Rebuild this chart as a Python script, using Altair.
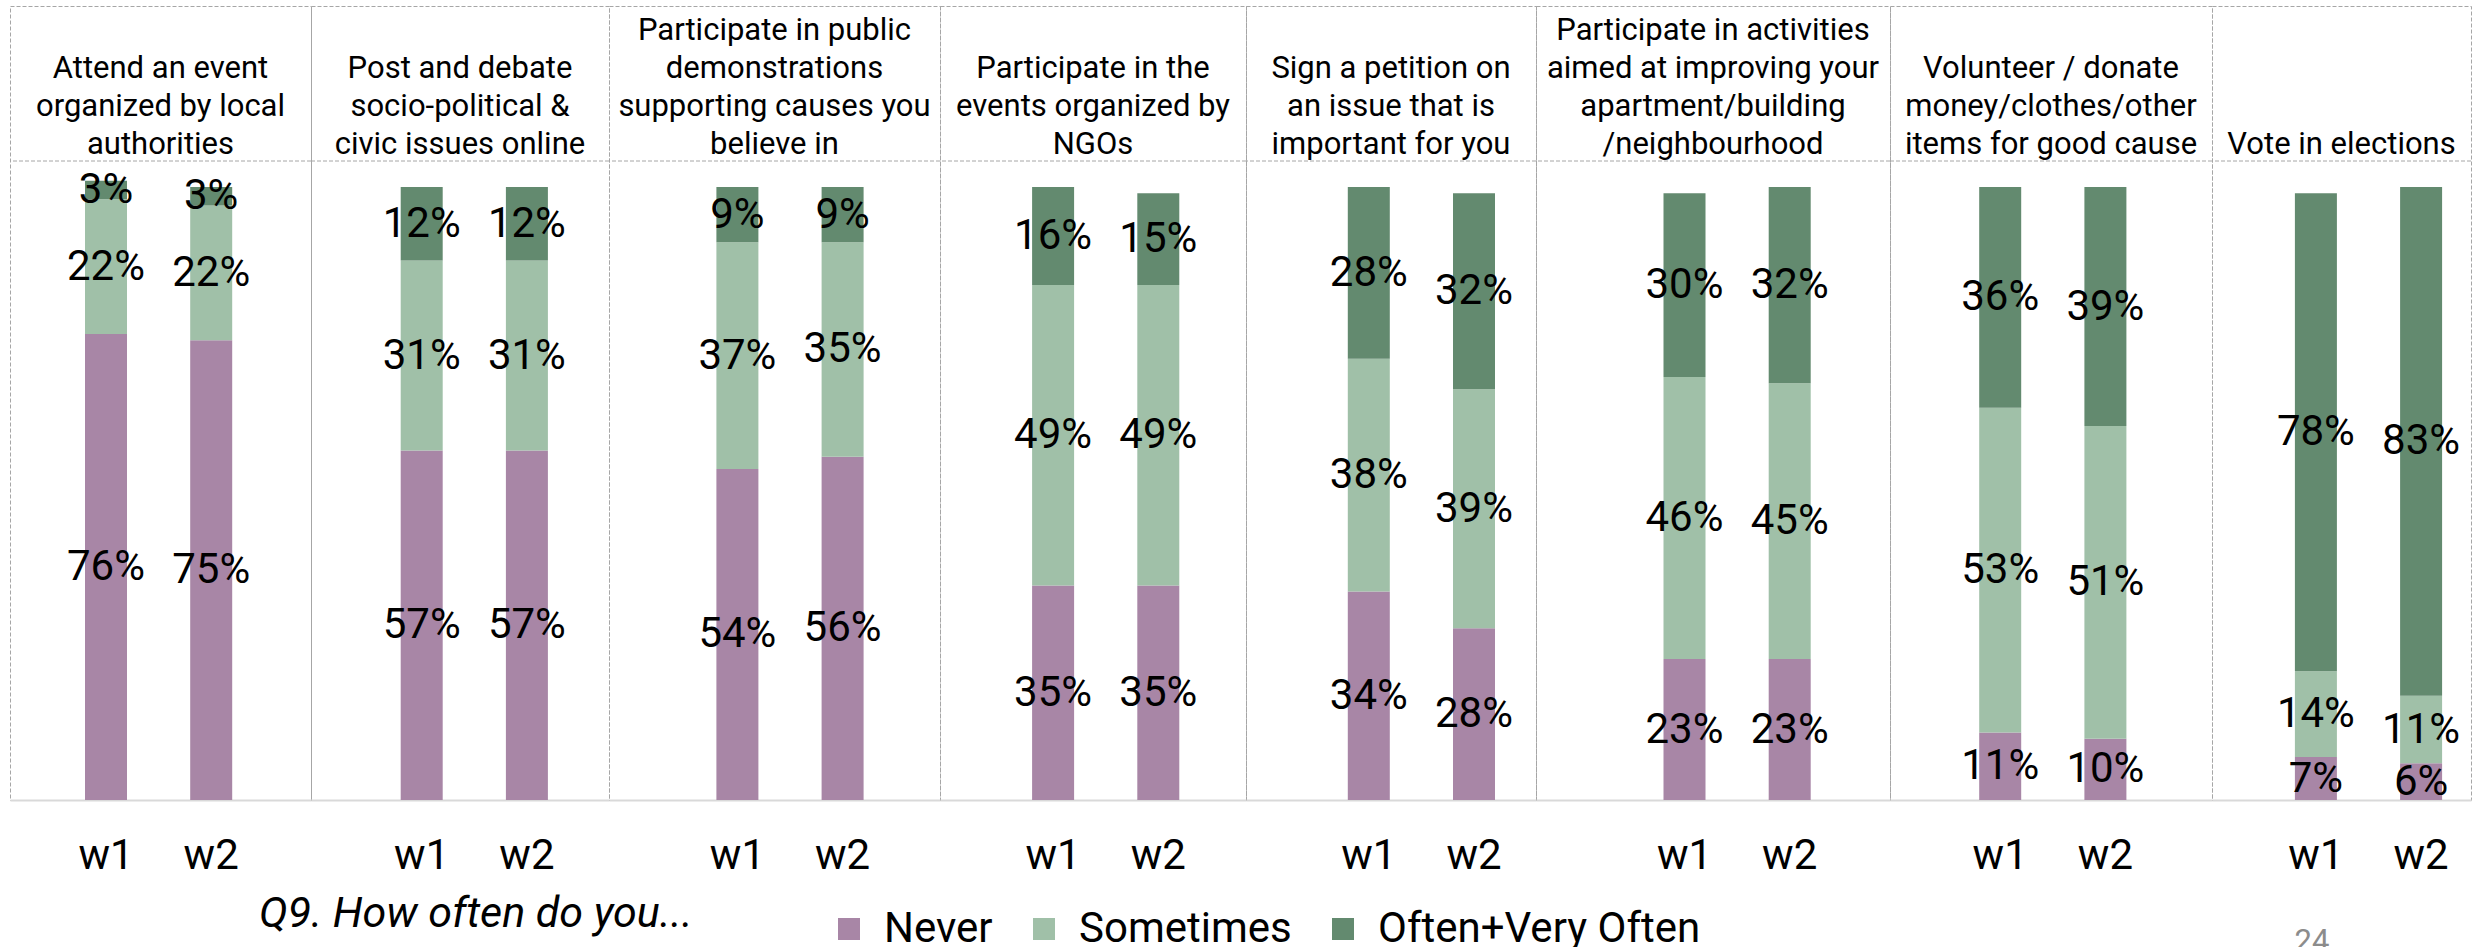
import altair as alt
import pandas as pd

# Activities asked about (header text of each column, one entry per line)
activities = [
    ["Attend an event", "organized by local", "authorities"],
    ["Post and debate", "socio-political &", "civic issues online"],
    ["Participate in public", "demonstrations", "supporting causes you", "believe in"],
    ["Participate in the", "events organized by", "NGOs"],
    ["Sign a petition on", "an issue that is", "important for you"],
    ["Participate in activities", "aimed at improving your", "apartment/building", "/neighbourhood"],
    ["Volunteer / donate", "money/clothes/other", "items for good cause"],
    ["Vote in elections"],
]
waves = ["w1", "w2"]
responses = ["Never", "Sometimes", "Often+Very Often"]
response_colors = ["#A886A6", "#A0C0A8", "#638A6F"]

# Share of respondents (%), [w1, w2] per activity
never_pct = [[76, 75], [57, 57], [54, 56], [35, 35], [34, 28], [23, 23], [11, 10], [7, 6]]
sometimes_pct = [[22, 22], [31, 31], [37, 35], [49, 49], [38, 39], [46, 45], [53, 51], [14, 11]]
often_pct = [[3, 3], [12, 12], [9, 9], [16, 15], [28, 32], [30, 32], [36, 39], [78, 83]]

caption = "Q9. How often do you..."
page_number = "24"

# ---- layout constants -------------------------------------------------------
cell_edges = [9, 310, 608, 939, 1245, 1535, 1889, 2211, 2470]  # table column borders
first_bar_center = 105.0
group_pitch = 315.7
wave_step = 105.2
bar_width = 42.0
panel_height = 794
px_per_pct = 6.13
y_top = panel_height / px_per_pct                 # value at the top border
header_line = (panel_height - 155) / px_per_pct  # value where the header row ends
header_line_height = 38
header_gap = 7

DASH = [4, 2]
GRID_GRAY = "#a6a6a6"

rows = []
for i in range(len(activities)):
    for j, w in enumerate(waves):
        for k, (resp, arr) in enumerate(zip(responses, [never_pct, sometimes_pct, often_pct])):
            rows.append({"activity": i, "wave": w, "response": resp, "rank": k, "pct": arr[i][j]})
df = pd.DataFrame(rows)

legend = alt.Legend(
    orient="none", legendX=818, legendY=902, direction="horizontal", title=None,
    labelFontSize=42, labelFont="Roboto", labelColor="black", labelLimit=0,
    symbolType="square", symbolSize=484, symbolStrokeWidth=0,
    labelOffset=14, columnPadding=30, padding=0,
)
color = alt.Color("response:N", scale=alt.Scale(domain=responses, range=response_colors), legend=legend)
yscale = alt.Scale(domain=[0, y_top], nice=False, zero=True)

one_row = alt.Data(values=[{}])

panels = []
for i, lines in enumerate(activities):
    W = cell_edges[i + 1] - cell_edges[i]
    c1 = first_bar_center + group_pitch * i - cell_edges[i]
    p_inner = 1 - bar_width / wave_step
    p_outer = (W / wave_step - 2 + p_inner) / 2
    align = (c1 - bar_width / 2) / (W - wave_step - bar_width)

    X = alt.X(
        "wave:N",
        scale=alt.Scale(domain=waves, paddingInner=p_inner, paddingOuter=p_outer, align=align, round=False),
        axis=alt.Axis(title=None, labelFontSize=42, labelFont="Roboto", labelColor="black",
                      ticks=False, tickSize=0, labelPadding=35, labelAngle=0,
                      domainColor="#d9d9d9", domainWidth=2, grid=False),
    )

    stacked = (
        alt.Chart(df[df.activity == i])
        .transform_stack(stack="pct", groupby=["wave"], sort=[alt.SortField("rank", order="ascending")],
                         as_=["y0", "y1"])
        .transform_calculate(mid="(datum.y0 + datum.y1) / 2", label="datum.pct + '%'")
    )
    bars = stacked.mark_bar().encode(
        x=X, y=alt.Y("y0:Q", scale=yscale, axis=None), y2="y1:Q", color=color
    )
    labels = stacked.mark_text(fontSize=42, font="Roboto", color="black", baseline="middle").encode(
        x=X, y=alt.Y("mid:Q", scale=yscale), text="label:N"
    )
    header_rule = alt.Chart(one_row).mark_rule(
        stroke=GRID_GRAY, strokeDash=DASH, strokeWidth=1
    ).encode(y=alt.datum(header_line))

    # header lines, bottom-aligned in the header cell
    n = len(lines)
    header_rows = [{"line": s, "from_bottom": n - 1 - idx} for idx, s in enumerate(lines)]
    header_text = (
        alt.Chart(alt.Data(values=header_rows))
        .transform_calculate(
            ypos=f"{header_line} + ({header_gap} + datum.from_bottom * {header_line_height}) / {px_per_pct}"
        )
        .mark_text(fontSize=31, font="Roboto", color="black", align="center", baseline="alphabetic")
        .encode(x=alt.value(W / 2), y=alt.Y("ypos:Q", scale=yscale), text="line:N")
    )

    layers = [bars, labels, header_rule, header_text]
    if i == 0:
        layers.append(
            alt.Chart(one_row).mark_text(
                fontSize=43, font="Roboto", fontStyle="italic", color="black",
                align="left", baseline="alphabetic",
            ).encode(x=alt.value(249), y=alt.value(921), text=alt.value(caption))
        )
    if i == len(activities) - 1:
        layers.append(
            alt.Chart(one_row).mark_text(
                fontSize=31, font="Roboto", color="#8c8c8c", align="center", baseline="alphabetic",
            ).encode(x=alt.value(100), y=alt.value(945), text=alt.value(page_number))
        )

    panels.append(alt.layer(*layers).properties(width=W, height=panel_height))

chart = (
    alt.hconcat(*panels, spacing=0, bounds="flush")
    .resolve_scale(x="independent")
    .properties(padding={"left": 9, "top": 5, "right": 0, "bottom": 0}, background="white")
    .configure(font="Roboto")
    .configure_view(stroke=GRID_GRAY, strokeDash=DASH, strokeWidth=1)
)

chart.save("out.html", embed_options={"renderer": "svg", "actions": False})
